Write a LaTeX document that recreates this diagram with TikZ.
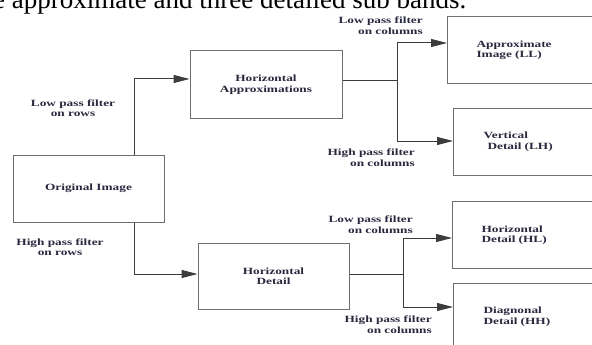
\documentclass[tikz,border=0pt]{standalone}
\usepackage{xcolor}
\usepackage{fontspec}
\setmainfont{Liberation Serif}
\newfontfamily\lblfont{Liberation Serif Bold}[FakeStretch=1.4]
\usepackage{tikz}
\usetikzlibrary{arrows.meta,calc}
\definecolor{txtcol}{RGB}{40,40,62}
\definecolor{boxcol}{RGB}{110,110,110}
\definecolor{wirecol}{RGB}{60,60,60}

\begin{document}
\begin{tikzpicture}[
  x=1pt, y=-1pt,
  font=\lblfont\fontsize{9.5}{10.5}\selectfont,
  blk/.style={draw=boxcol, line width=1pt, rectangle, text=txtcol, align=center, inner sep=0pt},
  sub/.style={blk, minimum width=190pt, minimum height=67pt, text width=150pt, align=left, inner xsep=29pt, anchor=west},
  lbl/.style={text=txtcol, inner sep=0pt},
  wire/.style={draw=wirecol, line width=1pt},
  arr/.style={wire, -{Triangle[length=16pt, width=8pt]}}
]
  \useasboundingbox (0,0) rectangle (592,345);
  \clip (0,0) rectangle (592,345);

  % caption line cut off at the top
  \node[anchor=base west, inner sep=0pt, font=\fontsize{27}{30}\selectfont] (cap) at (-7,9) {e approximate and three detailed sub bands.};

  \node[blk, minimum width=151pt, minimum height=67pt] (orig) at (88.5,188.5) {Original Image};
  \node[blk, minimum width=152pt, minimum height=67pt] (hap) at (266,84.5) {Horizontal\\Approximations};
  \node[blk, minimum width=151pt, minimum height=66pt] (hdet) at (273.5,276) {Horizontal\\Detail};

  \node[sub] (ll) at (447,50.5) {Approximate\\Image (LL)};
  \node[sub, inner xsep=30pt] (lh) at (453,141.5) {Vertical\\\hspace*{4pt}Detail (LH)};
  \node[sub] (hl) at (452,235) {Horizontal\\Detail (HL)};
  \node[sub, inner xsep=30pt] (hh) at (453,316.5) {Diagnonal\\Detail (HH)};

  \node[lbl, align=center] (lrow) at (73,108) {Low pass filter\\on rows};
  \node[lbl, align=center] (hrow) at (60,247) {High pass filter\\on rows};
  \node[lbl, align=right, anchor=east] (lcol1) at (423,25.5) {Low pass filter\\on columns};
  \node[lbl, align=right, anchor=east] (hcol1) at (415,157.5) {High pass filter\\on columns};
  \node[lbl, align=right, anchor=east] (lcol2) at (413,224.5) {Low pass filter\\on columns};
  \node[lbl, align=right, anchor=east] (hcol2) at (432,324.5) {High pass filter\\on columns};

  \draw[arr] ([xshift=45.5pt]orig.north) |- ([yshift=5.5pt]hap.west);
  \draw[arr] ([xshift=45.5pt]orig.south) |- ([yshift=2pt]hdet.west);

  \draw[wire] ([yshift=3.5pt]hap.east) -- ++(55,0) coordinate (sa);
  \draw[arr] (sa) |- ([yshift=7.5pt]ll.west);
  \draw[arr] (sa) |- ([yshift=0.5pt]lh.west);

  \draw[wire] ([yshift=2pt]hdet.east) -- ++(54,0) coordinate (sb);
  \draw[arr] (sb) |- ([yshift=-3pt]hl.west);
  \draw[arr] (sb) |- ([yshift=9.5pt]hh.west);
\end{tikzpicture}
\end{document}
